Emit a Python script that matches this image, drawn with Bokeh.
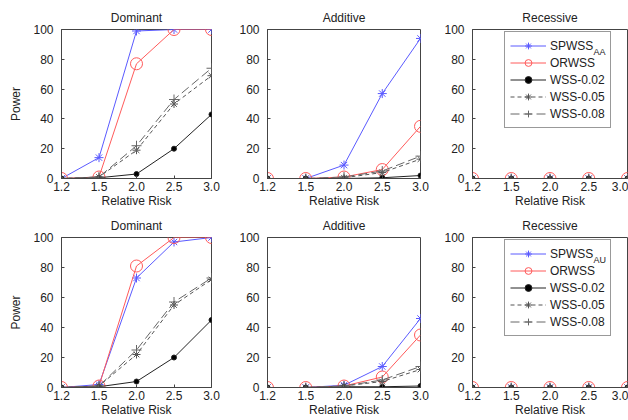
from bokeh.plotting import figure
from bokeh.layouts import column, row
from bokeh.models import Range1d, FixedTicker, Legend, LegendItem, Label
from bokeh.embed import file_html
from bokeh.resources import INLINE

rr_labels = ["1.2", "1.5", "2.0", "2.5", "3.0"]
x_idx = [0, 1, 2, 3, 4]
series_names = ["SPWSS", "ORWSS", "WSS-0.02", "WSS-0.05", "WSS-0.08"]

# Top row (AA)
dom_aa = {
    "SPWSS": [0, 14, 99, 100, 100],
    "ORWSS": [0, 1, 77, 100, 100],
    "WSS-0.02": [0, 0.5, 3, 20, 43],
    "WSS-0.05": [0, 1, 19, 50, 69],
    "WSS-0.08": [0, 1, 22, 53, 74],
}
add_aa = {
    "SPWSS": [0, 0, 9, 57, 94],
    "ORWSS": [0, 0, 1, 6, 35],
    "WSS-0.02": [0, 0, 0, 0.5, 2],
    "WSS-0.05": [0, 0, 0.5, 4, 13],
    "WSS-0.08": [0, 0, 1, 5, 15],
}
rec_aa = {
    "SPWSS": [0, 0, 0, 0, 0],
    "ORWSS": [0, 0, 0, 0, 0],
    "WSS-0.02": [0, 0, 0, 0, 0],
    "WSS-0.05": [0, 0, 0, 0, 0],
    "WSS-0.08": [0, 0, 0, 0, 0],
}
# Bottom row (AU)
dom_au = {
    "SPWSS": [0, 2, 73, 97, 100],
    "ORWSS": [0, 1, 81, 100, 100],
    "WSS-0.02": [0, 0.5, 4, 20, 45],
    "WSS-0.05": [0, 1, 22, 55, 72],
    "WSS-0.08": [0, 1, 25, 57, 73],
}
add_au = {
    "SPWSS": [0, 0, 1.5, 14, 46],
    "ORWSS": [0, 0, 1, 7, 35],
    "WSS-0.02": [0, 0, 0.5, 0.5, 1],
    "WSS-0.05": [0, 0, 1, 4, 12],
    "WSS-0.08": [0, 0, 1, 5, 14],
}
rec_au = {
    "SPWSS": [0, 0, 0, 0, 0],
    "ORWSS": [0, 0, 0, 0, 0],
    "WSS-0.02": [0, 0, 0, 0, 0],
    "WSS-0.05": [0, 0, 0, 0, 0],
    "WSS-0.08": [0, 0, 0, 0, 0],
}

FONT = "Liberation Sans"
styles = {
    "SPWSS": dict(color="#5a5aff", dash="solid", marker="asterisk", size=9, fill=None),
    "ORWSS": dict(color="#ff5a5a", dash="solid", marker="circle", size=12, fill=None),
    "WSS-0.02": dict(color="#222222", dash="solid", marker="circle", size=5, fill="#000000"),
    "WSS-0.05": dict(color="#555555", dash="4 3", marker="asterisk", size=8, fill=None),
    "WSS-0.08": dict(color="#666666", dash="9 4", marker="cross", size=10, fill=None),
}


def make_panel(title, data, fw, fh, bl, br, bt, bb, ylabel=False, legend_sub=None):
    p = figure(output_backend="svg", toolbar_location=None,
               frame_width=fw, frame_height=fh,
               min_border_left=bl, min_border_right=br,
               min_border_top=bt, min_border_bottom=bb,
               x_range=Range1d(0, 4), y_range=Range1d(0, 100),
               title=title)
    p.title.text_font = FONT
    p.title.text_font_size = "12px"
    p.title.text_font_style = "normal"
    p.title.text_color = "#222222"
    p.title.align = "center"
    p.title.standoff = 10
    p.grid.visible = False
    p.outline_line_color = "#444444"
    p.background_fill_color = "white"
    p.border_fill_color = "white"
    for ax in (p.xaxis[0], p.yaxis[0]):
        ax.major_tick_in = 3
        ax.major_tick_out = 0
        ax.minor_tick_line_color = None
        ax.axis_line_color = "#444444"
        ax.major_tick_line_color = "#444444"
        ax.major_label_text_font = FONT
        ax.major_label_text_font_size = "12px"
        ax.major_label_text_color = "#222222"
        ax.axis_label_text_font = FONT
        ax.axis_label_text_font_size = "12px"
        ax.axis_label_text_font_style = "normal"
        ax.axis_label_text_color = "#222222"
    p.xaxis.ticker = FixedTicker(ticks=x_idx)
    p.xaxis.major_label_overrides = {i: l for i, l in zip(x_idx, rr_labels)}
    p.xaxis.axis_label = "Relative Risk"
    p.xaxis.major_label_standoff = 3
    p.xaxis.axis_label_standoff = 0
    p.yaxis.ticker = FixedTicker(ticks=[0, 20, 40, 60, 80, 100])
    p.yaxis.major_label_standoff = 8
    if ylabel:
        p.yaxis.axis_label = "Power"
        p.yaxis.axis_label_standoff = 7

    items = []
    for name in series_names:
        s = styles[name]
        ln = p.line(x_idx, data[name], line_color=s["color"], line_width=1,
                    line_dash=s["dash"])
        sc = p.scatter(x_idx, data[name], marker=s["marker"], size=s["size"],
                       line_color=s["color"], line_width=1,
                       fill_color=s["fill"], fill_alpha=1 if s["fill"] else 0)
        items.append(LegendItem(label=name, renderers=[ln, sc]))

    if legend_sub is not None:
        pad, lh, sp, gw, stand = 5, 17, 0, 36, 4
        leg_h = 2 * pad + 5 * lh + 4 * sp
        leg_left, leg_top = 32, 4
        # subscript for the first legend entry, placed after "SPWSS"
        px = leg_left + pad + gw + stand + 44
        py = fh - 22.5
        p.add_layout(Label(x=px / fw * 4, y=py / fh * 100, text=legend_sub,
                           text_font=FONT, text_font_size="9px",
                           text_color="#222222", text_baseline="middle"), "center")
        leg = Legend(items=items, location=(leg_left, fh - leg_top - leg_h),
                     label_text_font=FONT, label_text_font_size="12px",
                     label_text_color="#222222",
                     glyph_width=gw, glyph_height=lh, label_height=lh,
                     label_standoff=stand, spacing=sp, padding=pad, margin=0,
                     border_line_color="#333333", border_line_width=1,
                     background_fill_alpha=0)
        p.add_layout(leg, "center")
    return p


p1 = make_panel("Dominant", dom_aa, 150, 149, 61, 10, 29, 33, ylabel=True)
p2 = make_panel("Additive", add_aa, 153, 149, 46, 10, 29, 33)
p3 = make_panel("Recessive", rec_aa, 155, 149, 42, 1, 29, 33, legend_sub="AA")
p4 = make_panel("Dominant", dom_au, 150, 150, 61, 10, 25, 34, ylabel=True)
p5 = make_panel("Additive", add_au, 153, 150, 46, 10, 25, 34)
p6 = make_panel("Recessive", rec_au, 155, 150, 42, 1, 25, 34, legend_sub="AU")

layout = column(row(p1, p2, p3, spacing=0), row(p4, p5, p6, spacing=0), spacing=0)
open("out.html", "w").write(file_html(layout, INLINE))
